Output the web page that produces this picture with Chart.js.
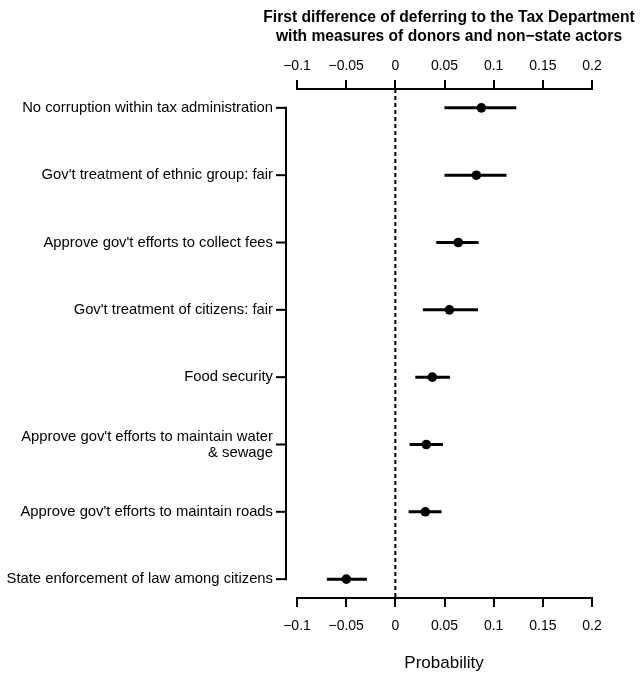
<!DOCTYPE html>
<html>
<head>
<meta charset="utf-8">
<script src="https://cdn.jsdelivr.net/npm/chart.js@4.4.1/dist/chart.umd.min.js"></script>
<style>
    html, body { margin: 0; padding: 0; background: #fff; }
    #chart { display: block; }
</style>
</head>
<body>
<canvas id="chart" width="641" height="684"></canvas>
<script>
// Datos del grafico
const categories = [
    "No corruption within tax administration",
    "Gov't treatment of ethnic group: fair",
    "Approve gov't efforts to collect fees",
    "Gov't treatment of citizens: fair",
    "Food security",
    ["Approve gov't efforts to maintain water", "& sewage"],
    "Approve gov't efforts to maintain roads",
    "State enforcement of law among citizens",
];
const estimates = [0.0875, 0.0824, 0.064, 0.055, 0.0376, 0.0315, 0.0305, -0.0498];
const lower = [0.050, 0.050, 0.0417, 0.028, 0.0203, 0.0145, 0.0135, -0.0696];
const upper = [0.123, 0.113, 0.0847, 0.084, 0.0556, 0.0484, 0.047, -0.0289];
const xTicks = [-0.1, -0.05, 0, 0.05, 0.1, 0.15, 0.2];

const titleLines = [
    "First difference of deferring to the Tax Department",
    "with measures of donors and non\u2212state actors",
];
const xLabel = "Probability";

const fmt = (v) => String(+v.toFixed(2)).replace("-", "\u2212");

// Puntos y barras de error
const datasets = [
    {
        type: "scatter",
        data: estimates.map((v, i) => ({ x: v, y: i })),
        backgroundColor: "#000",
        borderWidth: 0,
        pointRadius: 4.8,
        pointHoverRadius: 4.8,
    },
];
categories.forEach((c, i) => {
    datasets.push({
        type: "line",
        data: [{ x: lower[i], y: i }, { x: upper[i], y: i }],
        borderColor: "#000",
        borderWidth: 3,
        pointRadius: 0,
    });
});
// Linea de referencia en cero
datasets.push({
    type: "line",
    data: [{ x: 0, y: -0.28 }, { x: 0, y: categories.length - 0.72 }],
    borderColor: "#000",
    borderWidth: 2,
    borderDash: [4, 3],
    pointRadius: 0,
});

const xAxis = (position, pad) => ({
    type: "linear",
    position: position,
    min: -0.1,
    max: 0.2,
    afterBuildTicks: (s) => {
        s.ticks = xTicks.map((v) => ({ value: v }));
    },
    afterFit: (s) => {
        s.height = 40;
    },
    grid: {
        drawOnChartArea: false,
        drawTicks: true,
        tickLength: 9,
        lineWidth: 2,
        color: "#000",
    },
    border: { display: true, color: "#000", width: 2 },
    ticks: {
        color: "#000",
        font: { family: "Liberation Sans", size: 14 },
        padding: pad,
        maxRotation: 0,
        autoSkip: false,
        callback: (v) => fmt(v),
    },
});

// Eje Y, titulo y etiqueta dibujados con las escalas de Chart.js
const extras = {
    id: "extras",
    afterDraw(chart) {
        const ctx = chart.ctx;
        const y = chart.scales.y;
        const axisX = 286;
        ctx.save();
        ctx.strokeStyle = "#000";
        ctx.lineWidth = 2;
        ctx.beginPath();
        ctx.moveTo(axisX, y.getPixelForValue(0) - 1);
        ctx.lineTo(axisX, y.getPixelForValue(categories.length - 1) + 1);
        ctx.stroke();

        ctx.fillStyle = "#000";
        ctx.font = "14.8px 'Liberation Sans'";
        ctx.textAlign = "right";
        ctx.textBaseline = "middle";
        categories.forEach((c, i) => {
            const py = y.getPixelForValue(i);
            ctx.beginPath();
            ctx.moveTo(axisX - 10, py);
            ctx.lineTo(axisX, py);
            ctx.stroke();
            const lines = Array.isArray(c) ? c : [c];
            lines.forEach((t, k) => {
                ctx.fillText(t, axisX - 13, py + (k - (lines.length - 1) / 2) * 16);
            });
        });

        ctx.textAlign = "center";
        ctx.font = "bold 15.6px 'Liberation Sans'";
        titleLines.forEach((t, k) => {
            ctx.fillText(t, 449, 18 + k * 19);
        });
        ctx.font = "17px 'Liberation Sans'";
        ctx.fillText(xLabel, 444, 663);
        ctx.restore();
    },
};

const ctx = document.getElementById("chart").getContext("2d");
new Chart(ctx, {
    data: { datasets: datasets },
    options: {
        responsive: false,
        animation: false,
        layout: { padding: { left: 297, right: 49, top: 49, bottom: 46 } },
        scales: {
            x: xAxis("bottom", 11),
            x2: xAxis("top", 5),
            y: {
                type: "linear",
                display: false,
                reverse: true,
                min: -0.28,
                max: categories.length - 0.72,
            },
        },
        plugins: {
            legend: { display: false },
            tooltip: { enabled: false },
        },
    },
    plugins: [extras],
});
</script>
</body>
</html>
